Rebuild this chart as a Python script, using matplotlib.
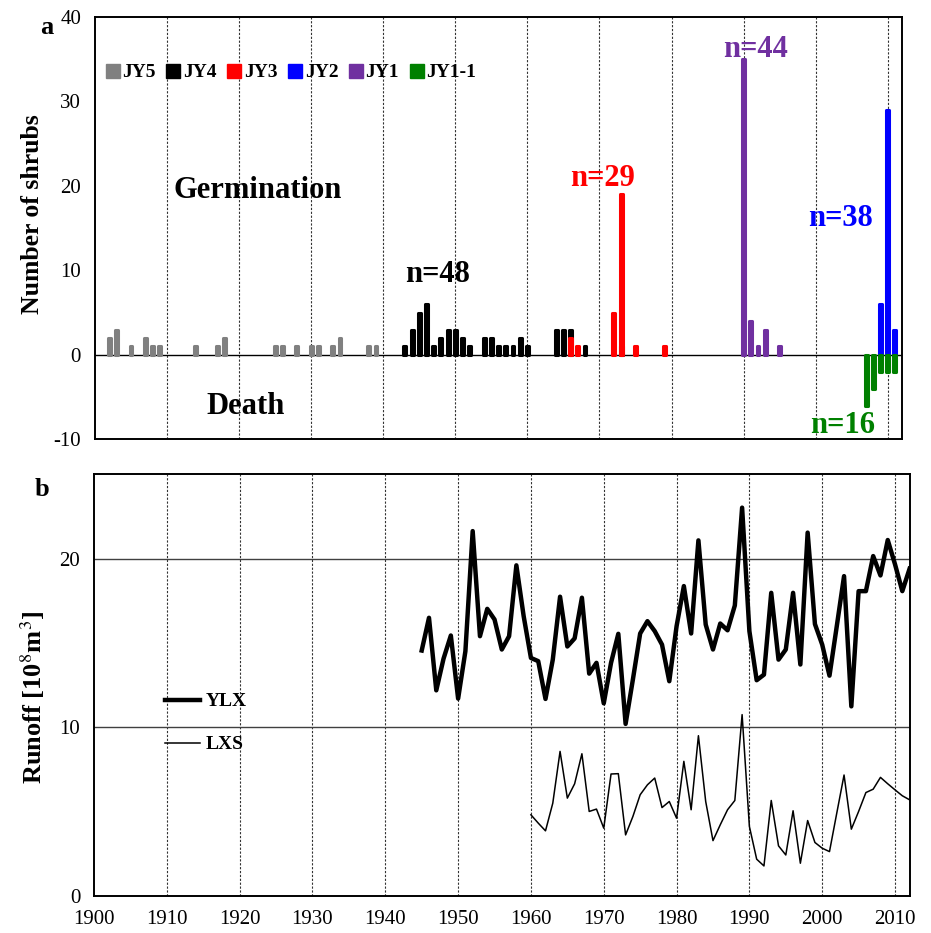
import numpy as np
import matplotlib.pyplot as plt
from matplotlib.lines import Line2D

plt.rcParams['font.family'] = ['Liberation Serif', 'DejaVu Serif']
plt.rcParams['mathtext.fontset'] = 'stix'
plt.rcParams['axes.unicode_minus'] = False

# shrub germination (positive) and death (negative) counts per year, per plot
jy5_years = [1902, 1903, 1905, 1907, 1908, 1909, 1914, 1917, 1918, 1925, 1926, 1928,
             1930, 1931, 1933, 1934, 1938, 1939]
jy5_counts = [2, 3, 1, 2, 1, 1, 1, 1, 2, 1, 1, 1, 1, 1, 1, 2, 1, 1]
jy4_years = [1943, 1944, 1945, 1946, 1947, 1948, 1949, 1950, 1951, 1952, 1954, 1955,
             1956, 1957, 1958, 1959, 1960, 1964, 1965, 1966, 1968, 1973]
jy4_counts = [1, 3, 5, 6, 1, 2, 3, 3, 2, 1, 2, 2, 1, 1, 1, 2, 1, 3, 3, 3, 1, 1]
jy3_years = [1966, 1967, 1972, 1973, 1975, 1979]
jy3_counts = [2, 1, 5, 19, 1, 1]
jy2_years = [2009, 2010, 2011]
jy2_counts = [6, 29, 3]
jy1_years = [1990, 1991, 1992, 1993, 1995]
jy1_counts = [35, 4, 1, 3, 1]
jy11_years = [2007, 2008, 2009, 2010, 2011]
jy11_counts = [-6, -4, -2, -2, -2]

# annual runoff (10^8 m3)
ylx_years = list(range(1945, 2013))
ylx = [14.55, 16.49, 12.19, 14.07, 15.44, 11.70, 14.51, 21.63, 15.40, 17.02,
       16.39, 14.61, 15.40, 19.60, 16.59, 14.11, 13.92, 11.68, 14.01, 17.74,
       14.79, 15.27, 17.68, 13.18, 13.82, 11.42, 13.82, 15.54, 10.20, 12.83,
       15.56, 16.29, 15.70, 14.90, 12.73, 15.99, 18.37, 15.56, 21.08, 16.09,
       14.61, 16.15, 15.75, 17.22, 23.02, 15.70, 12.79, 13.12, 17.97, 14.01,
       14.61, 17.97, 13.72, 21.54, 16.12, 14.90, 13.06, 15.99, 18.96, 11.24,
       18.07, 18.07, 20.15, 19.00, 21.10, 19.66, 18.07, 19.40]
lxs_years = list(range(1960, 2013))
lxs = [4.81, 4.32, 3.86, 5.50, 8.57, 5.80, 6.65, 8.43, 5.01, 5.15,
       4.02, 7.23, 7.25, 3.62, 4.71, 6.00, 6.59, 6.99, 5.24, 5.60,
       4.61, 7.98, 5.11, 9.50, 5.60, 3.28, 4.22, 5.11, 5.66, 10.75,
       4.12, 2.18, 1.78, 5.66, 2.97, 2.43, 5.05, 1.94, 4.47, 3.17,
       2.83, 2.63, 4.91, 7.17, 3.96, 5.01, 6.13, 6.33, 7.03, 6.65,
       6.29, 5.94, 5.70]

decades = list(range(1900, 2011, 10))

fig = plt.figure(figsize=(9.31, 9.33), dpi=100)
ax1 = fig.add_axes([0.102, 0.529, 0.867, 0.453])
ax2 = fig.add_axes([0.101, 0.0397, 0.876, 0.452])

# ---- panel a: germination / death bars (rounded ends like the original)
series = [("JY5", jy5_years, jy5_counts, "#808080"),
          ("JY4", jy4_years, jy4_counts, "black"),
          ("JY3", jy3_years, jy3_counts, "#ff0000"),
          ("JY2", jy2_years, jy2_counts, "#0000ff"),
          ("JY1", jy1_years, jy1_counts, "#7030a0"),
          ("JY1-1", jy11_years, jy11_counts, "#008000")]
for name, yrs, cnt, col in series:
    bars = ax1.bar(yrs, cnt, width=0.4, color=col, edgecolor=col, lw=2.2, zorder=3)
    for b in bars:
        b.set_joinstyle("round")

ax1.set_xlim(1900, 2012)
ax1.set_ylim(-10, 40)
ax1.set_yticks([-10, 0, 10, 20, 30, 40])
ax1.set_xticks([])
for d in decades[1:]:
    ax1.axvline(d, color="0.2", lw=0.8, ls=(0, (2, 1.5)), zorder=1)
ax1.axhline(0, color="black", lw=1.0, zorder=2)
ax1.tick_params(axis="y", length=0, pad=10, labelsize=15)

handles = [Line2D([], [], marker="s", ls="none", color=c, markersize=10) for _, _, _, c in series]
ax1.legend(handles, [s[0] for s in series], ncol=6, loc="upper left",
           bbox_to_anchor=(0.004, 0.907), frameon=False, handlelength=0.7,
           handletextpad=0.15, columnspacing=0.55, borderaxespad=0,
           prop={"weight": "bold", "size": 14})

big = dict(fontsize=22, fontweight="bold")
ax1.text(0.202, 0.59, "Germination", transform=ax1.transAxes, ha="center", va="center", **big)
ax1.text(0.187, 0.077, "Death", transform=ax1.transAxes, ha="center", va="center", **big)
ax1.text(1947.5, 9.5, "n=48", color="black", ha="center", va="center", **big)
ax1.text(1970.5, 20.9, "n=29", color="#ff0000", ha="center", va="center", **big)
ax1.text(1991.7, 36.1, "n=44", color="#7030a0", ha="center", va="center", **big)
ax1.text(2003.5, 16.1, "n=38", color="#0000ff", ha="center", va="center", **big)
ax1.text(2003.8, -8.3, "n=16", color="#008000", ha="center", va="center", **big)

# ---- panel b: runoff
ax2.plot(ylx_years, ylx, color="black", lw=3.2, label="YLX", zorder=3)
ax2.plot(lxs_years, lxs, color="black", lw=1.1, label="LXS", zorder=3)
ax2.set_xlim(1900, 2012)
ax2.set_ylim(0, 25)
ax2.set_yticks([0, 10, 20])
ax2.set_xticks(decades)
for d in decades[1:]:
    ax2.axvline(d, color="0.2", lw=0.8, ls=(0, (2, 1.5)), zorder=1)
for h in (10, 20):
    ax2.axhline(h, color="0.25", lw=1.0, zorder=1)
ax2.tick_params(length=0, pad=10, labelsize=15)
ax2.legend(loc="center left", bbox_to_anchor=(0.065, 0.41), frameon=False,
           handlelength=1.8, handletextpad=0.3, labelspacing=1.3,
           prop={"weight": "bold", "size": 14})

for ax in (ax1, ax2):
    for sp in ax.spines.values():
        sp.set_linewidth(1.4)
        sp.set_color("black")

fig.text(0.035, 0.77, "Number of shrubs", rotation=90, ha="center", va="center",
         fontsize=18.5, fontweight="bold")
fig.text(0.035, 0.253, r"Runoff [10$^{8}$m$^{3}$]", rotation=90, ha="center", va="center",
         fontsize=19, fontweight="bold")
fig.text(0.05, 0.971, "a", ha="center", va="center", fontsize=19, fontweight="bold")
fig.text(0.045, 0.475, "b", ha="center", va="center", fontsize=19, fontweight="bold")

fig.savefig("out.png", dpi=100)
